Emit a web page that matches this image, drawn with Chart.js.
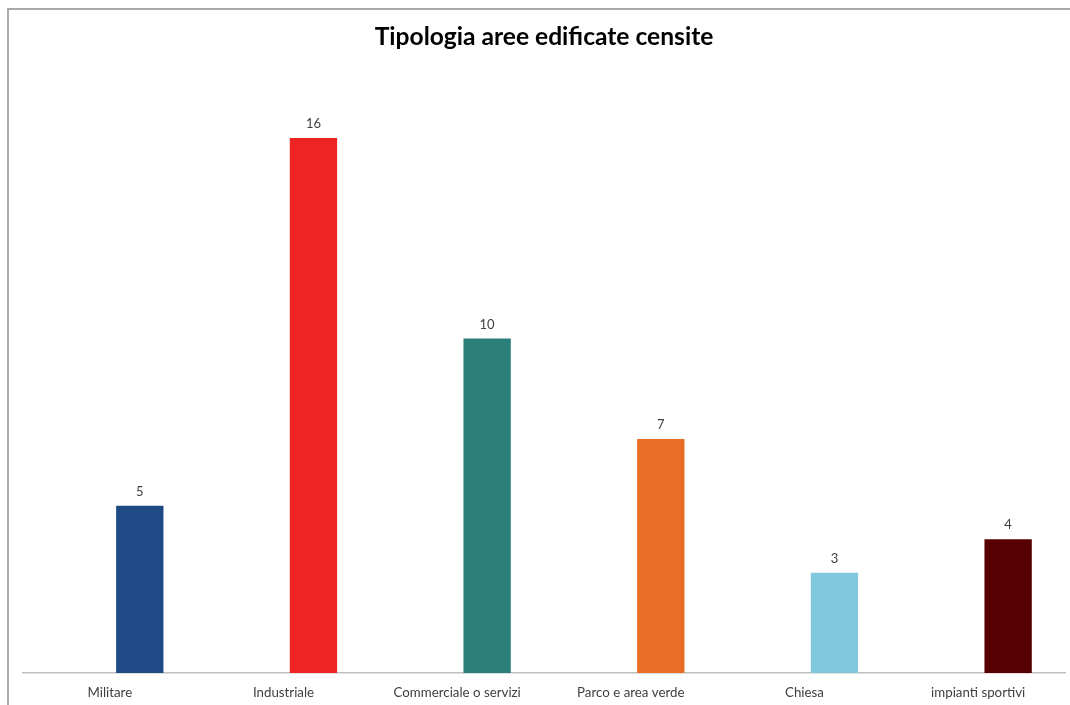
<!DOCTYPE html>
<html>
<head>
<meta charset="utf-8">
<title>Tipologia aree edificate censite</title>
<script src="https://cdn.jsdelivr.net/npm/chart.js@4/dist/chart.umd.min.js"></script>
<style>
  html, body { margin: 0; padding: 0; background: #ffffff; }
  #wrap { width: 1070px; height: 705px; position: relative; }
</style>
</head>
<body>
<div id="wrap"><canvas id="chart" width="1070" height="705"></canvas></div>
<script>
// Categories and counts
const categories = ['Militare', 'Industriale', 'Commerciale o servizi', 'Parco e area verde', 'Chiesa', 'impianti sportivi'];
const counts = [5, 16, 10, 7, 3, 4];
const barColors = ['#1F4A85', '#EE2424', '#2A7F7A', '#E86D25', '#80C9DD', '#560004'];
// Empty companion series: keeps the bars in the right-hand slot of each category
const emptySeries = categories.map(() => null);

const FONT = "Lato, 'Open Sans', 'DejaVu Sans', sans-serif";

// Outer frame (left and top edges of the chart box)
const framePlugin = {
  id: 'frame',
  beforeDraw(chart) {
    const ctx = chart.ctx;
    ctx.save();
    ctx.strokeStyle = '#a9a9a9';
    ctx.lineWidth = 2;
    ctx.beginPath();
    ctx.moveTo(8, 705);
    ctx.lineTo(8, 9);
    ctx.lineTo(1070, 9);
    ctx.stroke();
    ctx.restore();
  }
};

// Value labels above each bar
const valueLabels = {
  id: 'valueLabels',
  afterDatasetsDraw(chart) {
    const ctx = chart.ctx;
    const meta = chart.getDatasetMeta(1);
    ctx.save();
    ctx.font = '13px ' + FONT;
    ctx.fillStyle = '#404040';
    ctx.textAlign = 'center';
    ctx.textBaseline = 'middle';
    meta.data.forEach((bar, i) => {
      const v = counts[i];
      if (v == null) return;
      ctx.fillText(String(v), bar.x, bar.y - 14);
    });
    ctx.restore();
  }
};

new Chart(document.getElementById('chart'), {
  type: 'bar',
  data: {
    labels: categories,
    datasets: [
      { label: '', data: emptySeries, backgroundColor: 'rgba(0,0,0,0)' },
      { label: 'Aree', data: counts, backgroundColor: barColors, borderWidth: 0 }
    ]
  },
  options: {
    responsive: false,
    animation: false,
    devicePixelRatio: 1,
    categoryPercentage: 0.69,
    barPercentage: 0.79,
    layout: { padding: { left: 23, right: 5, top: 0, bottom: -8 } },
    plugins: {
      legend: { display: false },
      tooltip: { enabled: false },
      title: {
        display: true,
        text: 'Tipologia aree edificate censite',
        color: '#000000',
        font: { family: FONT, size: 24.6, weight: 'bold', lineHeight: 1.2 },
        padding: { top: 22.2, bottom: 19.3 }
      }
    },
    scales: {
      x: {
        grid: { display: false, drawTicks: false },
        border: { display: true, color: '#bfbfbf', width: 1.5 },
        ticks: {
          color: '#404040',
          font: { family: FONT, size: 13.3 },
          padding: 12,
          maxRotation: 0,
          autoSkip: false
        }
      },
      y: {
        display: false,
        min: 0,
        max: 18
      }
    }
  },
  plugins: [framePlugin, valueLabels]
});
</script>
</body>
</html>
